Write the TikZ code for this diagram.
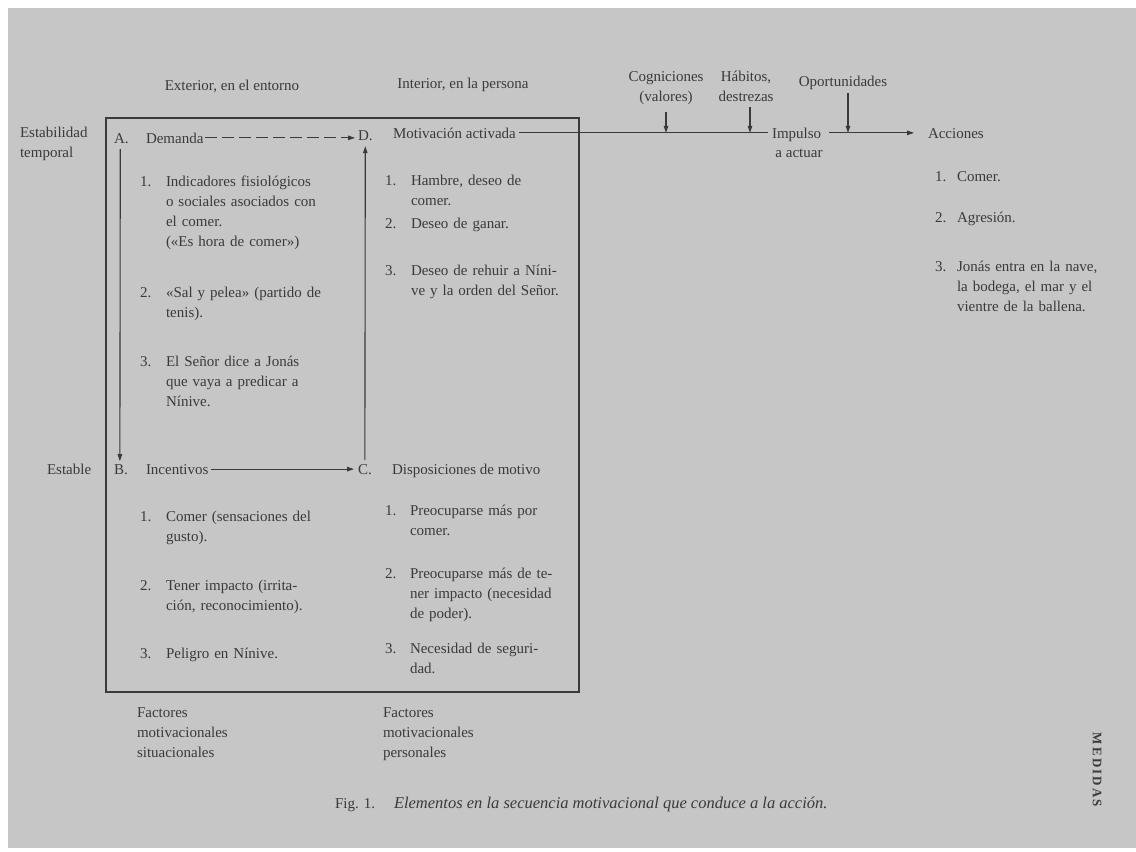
\documentclass[tikz,border=0pt]{standalone}
\usepackage{fontspec}
\setmainfont{Liberation Serif}
\usetikzlibrary{arrows.meta}
\definecolor{paper}{RGB}{198,198,198}
\definecolor{ink}{RGB}{58,58,58}
\newcommand\fsz{\fontsize{15}{20}\selectfont}
\newcommand\jl[2]{\makebox[#1][s]{#2}}
\begin{document}
\begin{tikzpicture}[x=1pt,y=-1pt,
  every node/.style={inner sep=0pt, outer sep=0pt, text=ink, font=\fsz},
  lbl/.style={anchor=base west},
  itm/.style={anchor=base west, text width=220pt, align=left},
  ctr/.style={anchor=base, align=center},
  arr/.style={draw=ink, line width=1.1pt, -{Triangle[length=7pt,width=4.5pt]}},
  ln/.style={draw=ink, line width=1.1pt}]
\useasboundingbox (0,0) rectangle (1136,852);
\fill[white] (0,0) rectangle (1136,852);
\fill[paper] (8,8) rectangle (1136,848);
% frame
\draw[ink, line width=2pt] (106,118) rectangle (579,692);
% headers
\node[ctr] (ext) at (232,90) {Exterior, en el entorno};
\node[ctr] (int) at (463,88) {Interior, en la persona};
\node[ctr] (cog) at (666,101) {Cogniciones\\(valores)};
\node[ctr] (hab) at (746,101) {Hábitos,\\destrezas};
\node[ctr] (opo) at (843,86) {Oportunidades};
\node[itm] (estt) at (20,137) {Estabilidad\\temporal};
\node[lbl] (est) at (47,474) {Estable};
% top row
\node[lbl] (Al) at (114,143) {A.};
\node[lbl] (Dem) at (146,143) {Demanda};
\node[lbl] (Dl) at (358,140) {D.};
\node[lbl] (Mot) at (393,138) {Motivación activada};
\node[lbl] (Imp) at (772,138) {Impulso};
\node[ctr] (act) at (799,157) {a actuar};
\node[lbl] (Acc) at (928,138) {Acciones};
% bottom row
\node[lbl] (Bl) at (114,474) {B.};
\node[lbl] (Inc) at (146,474) {Incentivos};
\node[lbl] (Cl) at (358,474) {C.};
\node[lbl] (Dis) at (392,474) {Disposiciones de motivo};
% connectors
\draw[arr, dash pattern=on 12pt off 5pt] ([xshift=2pt]Dem.east) -- ([xshift=-3pt]Dl.west |- Dem.east);
\draw[ln] ([xshift=3pt]Mot.east) -- ([xshift=-4pt]Imp.west |- Mot.east);
\draw[arr] ([xshift=8pt]Imp.east |- Mot.east) -- ([xshift=-14pt]Acc.west |- Mot.east);
\draw[arr] ([yshift=-8pt]cog.south) -- (cog.south |- Mot.east);
\draw[arr] ([xshift=4pt,yshift=-6pt]hab.south) -- ([xshift=4pt]hab.south |- Mot.east);
\draw[arr] ([xshift=5pt,yshift=-4pt]opo.south) -- ([xshift=5pt]opo.south |- Mot.east);
\draw[arr] ([xshift=-1pt,yshift=-6pt]Al.south) -- ([xshift=-1pt,yshift=3pt]Bl.north);
\draw[arr] ([yshift=4pt]Cl.north) -- ([yshift=-6pt]Dl.south);
\draw[arr] ([xshift=3pt]Inc.east) -- ([xshift=-4pt]Cl.west |- Inc.east);
% A list
\node[lbl] (a1n) at (140,186) {1.};
\node[itm] (a1) at (166,186) {\jl{147pt}{Indicadores fisiológicos}\\\jl{147pt}{o sociales asociados con}\\el comer.\\(«Es hora de comer»)};
\node[lbl] (a2n) at (140,297) {2.};
\node[itm] (a2) at (166,297) {\jl{147pt}{«Sal y pelea» (partido de}\\tenis).};
\node[lbl] (a3n) at (140,366) {3.};
\node[itm] (a3) at (166,366) {\jl{147pt}{El Señor dice a Jonás}\\\jl{147pt}{que vaya a predicar a}\\Nínive.};
% D list
\node[lbl] (d1n) at (385,185) {1.};
\node[itm] (d1) at (411,185) {\jl{152pt}{Hambre, deseo de}\\comer.};
\node[lbl] (d2n) at (385,228) {2.};
\node[itm] (d2) at (411,228) {Deseo de ganar.};
\node[lbl] (d3n) at (385,275) {3.};
\node[itm] (d3) at (411,275) {\jl{152pt}{Deseo de rehuir a Níni-}\\ve y la orden del Señor.};
% B list
\node[lbl] (b1n) at (140,521) {1.};
\node[itm] (b1) at (166,521) {\jl{148pt}{Comer (sensaciones del}\\gusto).};
\node[lbl] (b2n) at (140,590) {2.};
\node[itm] (b2) at (166,590) {\jl{148pt}{Tener impacto (irrita-}\\ción, reconocimiento).};
\node[lbl] (b3n) at (140,658) {3.};
\node[itm] (b3) at (166,658) {Peligro en Nínive.};
% C list
\node[lbl] (c1n) at (385,515) {1.};
\node[itm] (c1) at (410,515) {\jl{160pt}{Preocuparse más por}\\comer.};
\node[lbl] (c2n) at (385,578) {2.};
\node[itm] (c2) at (410,578) {\jl{160pt}{Preocuparse más de te-}\\\jl{160pt}{ner impacto (necesidad}\\de poder).};
\node[lbl] (c3n) at (385,653) {3.};
\node[itm] (c3) at (410,653) {\jl{160pt}{Necesidad de seguri-}\\dad.};
% Acciones list
\node[lbl] (e1n) at (935,181) {1.};
\node[itm] (e1) at (957,181) {Comer.};
\node[lbl] (e2n) at (935,222) {2.};
\node[itm] (e2) at (957,222) {Agresión.};
\node[lbl] (e3n) at (935,271) {3.};
\node[itm] (e3) at (957,271) {Jonás entra en la nave,\\la bodega, el mar y el\\vientre de la ballena.};
% bottom captions
\node[itm] (fs) at (137,717) {Factores\\motivacionales\\situacionales};
\node[itm] (fp) at (383,717) {Factores\\motivacionales\\personales};
\node[lbl] (fig) at (335,808) {Fig. 1.};
\node[lbl, font=\fontsize{16.5}{20}\selectfont\itshape] (cap) at (394,808) {Elementos en la secuencia motivacional que conduce a la acción.};
\node[rotate=-90, font=\fontsize{13}{15}\selectfont\bfseries] (med) at (1097,770) {M\,E\,D\,I\,D\,A\,S};
\end{tikzpicture}
\end{document}
